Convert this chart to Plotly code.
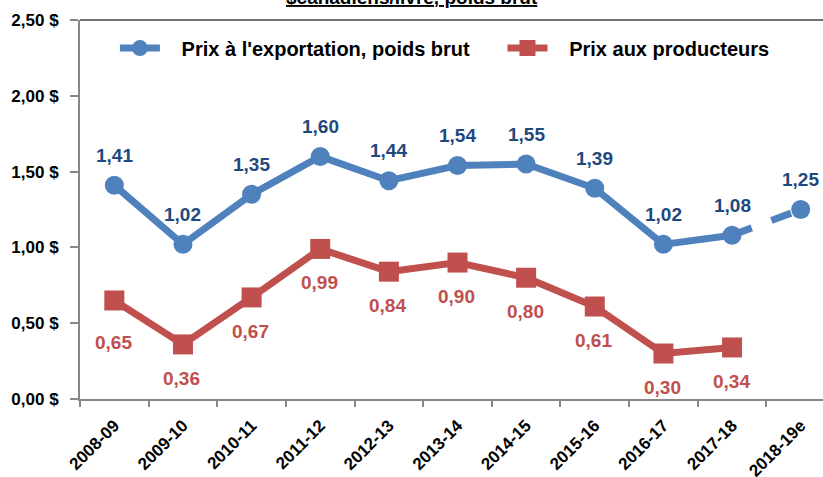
import plotly.graph_objects as go

categories = ["2008-09", "2009-10", "2010-11", "2011-12", "2012-13", "2013-14",
              "2014-15", "2015-16", "2016-17", "2017-18", "2018-19e"]
export_prices = [1.41, 1.02, 1.35, 1.60, 1.44, 1.54, 1.55, 1.39, 1.02, 1.08, 1.25]
producer_prices = [0.65, 0.36, 0.67, 0.99, 0.84, 0.90, 0.80, 0.61, 0.30, 0.34, None]
ytick_vals = [0, 0.5, 1.0, 1.5, 2.0, 2.5]
ytick_text = ["0,00 $", "0,50 $", "1,00 $", "1,50 $", "2,00 $", "2,50 $"]

FONT = "Liberation Sans Narrow, Arial Narrow, Arial, sans-serif"
BLUE = "#4F81BD"
BLUE_TXT = "#1F497D"
RED = "#C0504D"
NB = "\u00a0" * 3
GAP = "\u00a0" * 5

def fr(v):
    return f"{v:.2f}".replace(".", ",")

fig = go.Figure()

fig.add_trace(go.Scatter(
    x=categories[:-1], y=export_prices[:-1], mode="lines+markers",
    name=NB + "Prix à l'exportation, poids brut" + GAP,
    line=dict(color=BLUE, width=7),
    marker=dict(symbol="circle", size=19, color=BLUE),
    cliponaxis=False,
))
fig.add_trace(go.Scatter(
    x=categories[-2:], y=export_prices[-2:], mode="lines",
    showlegend=False,
    line=dict(color=BLUE, width=7, dash="dash"),
    cliponaxis=False,
))
fig.add_trace(go.Scatter(
    x=categories[-1:], y=export_prices[-1:], mode="markers",
    showlegend=False,
    marker=dict(symbol="circle", size=19, color=BLUE),
    cliponaxis=False,
))
pc = [c for c, v in zip(categories, producer_prices) if v is not None]
pv = [v for v in producer_prices if v is not None]
fig.add_trace(go.Scatter(
    x=pc, y=pv, mode="lines+markers",
    name=NB + "Prix aux producteurs",
    line=dict(color=RED, width=7),
    marker=dict(symbol="square", size=20, color=RED),
    cliponaxis=False,
))

annotations = []
for c, v in zip(categories, export_prices):
    annotations.append(dict(x=c, y=v, text=fr(v), showarrow=False, yshift=30,
                            xanchor="center", yanchor="middle",
                            font=dict(family=FONT, size=19, color=BLUE_TXT, weight="bold")))
for i, (c, v) in enumerate(zip(pc, pv)):
    annotations.append(dict(x=c, y=v, text=fr(v), showarrow=False,
                            yshift=-42 if i == 0 else -34, xshift=-1,
                            xanchor="center", yanchor="middle",
                            font=dict(family=FONT, size=19, color=RED, weight="bold")))
annotations.append(dict(text="<u>$canadiens/livre, poids brut</u>", xref="paper", yref="paper",
                        x=0.447, y=1.026, xanchor="center", yanchor="bottom", showarrow=False,
                        font=dict(family=FONT, size=19, color="black", weight="bold")))

fig.update_layout(
    width=823, height=477,
    margin=dict(l=80, r=0, t=20, b=78),
    paper_bgcolor="white", plot_bgcolor="white",
    font=dict(family=FONT, color="black"),
    showlegend=True,
    legend=dict(orientation="h", x=0.047, y=0.926, xanchor="left", yanchor="middle",
                font=dict(family=FONT, size=20, color="black", weight="bold"),
                bgcolor="rgba(0,0,0,0)", itemwidth=40, tracegroupgap=0),
    xaxis=dict(
        type="category", categoryorder="array", categoryarray=categories,
        range=[-0.5, 10.325], tickson="boundaries", automargin=False,
        ticks="outside", ticklen=6, tickcolor="#878787", tickwidth=2,
        showline=True, linecolor="#878787", linewidth=2, showgrid=False,
        tickangle=-45, ticklabelstandoff=8,
        tickfont=dict(family=FONT, size=17, color="black", weight="bold"),
        zeroline=False,
    ),
    yaxis=dict(
        range=[0, 2.5], tickvals=ytick_vals, ticktext=ytick_text, automargin=False,
        ticks="outside", ticklen=8, tickcolor="#878787", tickwidth=2,
        showline=True, linecolor="#878787", linewidth=2, showgrid=False,
        ticklabelstandoff=8,
        tickfont=dict(family=FONT, size=17, color="black", weight="bold"),
        zeroline=False,
    ),
    shapes=[dict(type="line", xref="paper", yref="paper", x0=0, x1=1, y0=1, y1=1,
                 line=dict(color="#404040", width=1.5))],
    annotations=annotations,
)

fig.write_html("out.html", config={"displayModeBar": False},
               post_script="document.body.style.margin='0';")
